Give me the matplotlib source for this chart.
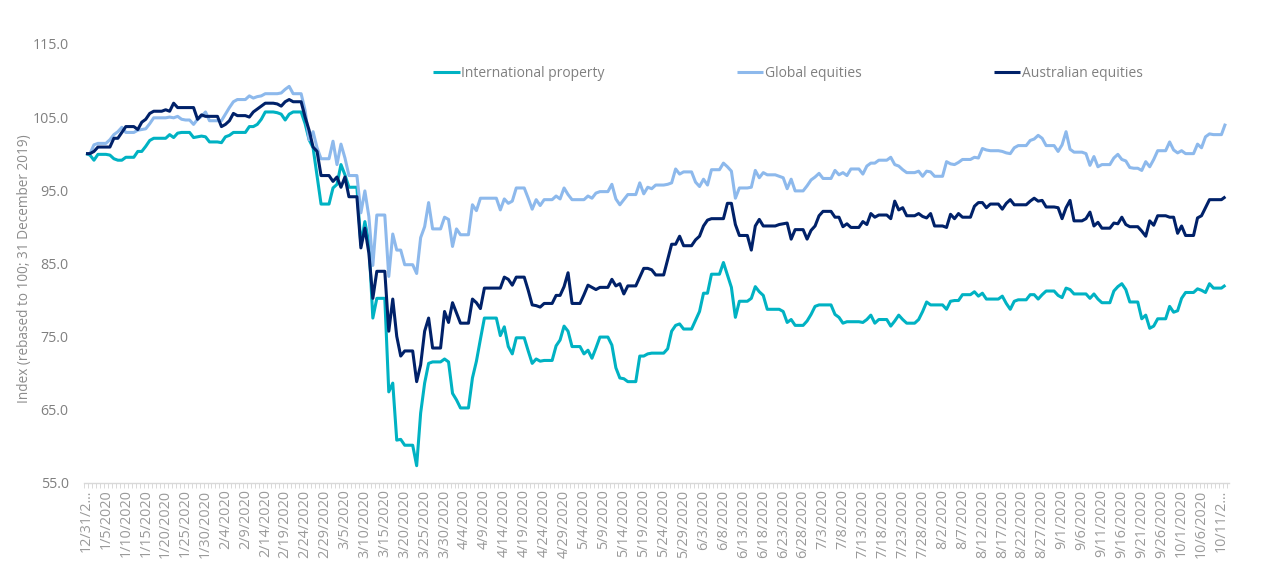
import pandas as pd
import matplotlib
matplotlib.use('Agg')
import matplotlib.pyplot as plt

plt.rcParams['font.family'] = ['Open Sans', 'DejaVu Sans']

startDate = '2019-12-31'

internationalProperty = [
    100.0, 99.8, 99.1, 99.9, 99.9, 99.9, 99.8,
    99.3, 99.1, 99.1, 99.5, 99.5, 99.5, 100.3,
    100.3, 101.0, 101.8, 102.1, 102.1, 102.1, 102.1,
    102.6, 102.2, 102.8, 102.9, 102.9, 102.9, 102.2,
    102.3, 102.4, 102.3, 101.6, 101.6, 101.6, 101.5,
    102.3, 102.5, 102.9, 102.9, 102.9, 102.9, 103.7,
    103.7, 104.0, 104.7, 105.7, 105.7, 105.7, 105.6,
    105.4, 104.6, 105.4, 105.7, 105.7, 105.7, 104.1,
    101.9, 100.8, 96.9, 93.1, 93.1, 93.1, 95.3,
    95.8, 98.5, 97.1, 95.4, 95.4, 95.4, 87.5,
    90.7, 87.8, 77.5, 80.2, 80.2, 80.2, 67.4,
    68.6, 60.8, 60.9, 60.1, 60.1, 60.1, 57.3,
    64.5, 68.6, 71.3, 71.5, 71.5, 71.5, 71.9,
    71.5, 67.2, 66.3, 65.2, 65.2, 65.2, 69.3,
    71.6, 74.6, 77.5, 77.5, 77.5, 77.5, 75.1,
    76.3, 73.6, 72.6, 74.8, 74.8, 74.8, 73.0,
    71.3, 71.9, 71.6, 71.7, 71.7, 71.7, 73.7,
    74.5, 76.4, 75.7, 73.6, 73.6, 73.6, 72.6,
    73.1, 72.0, 73.4, 74.9, 74.9, 74.9, 73.8,
    70.7, 69.3, 69.2, 68.8, 68.8, 68.8, 72.3,
    72.3, 72.6, 72.7, 72.7, 72.7, 72.7, 73.3,
    75.7, 76.5, 76.7, 76.0, 76.0, 76.0, 77.2,
    78.4, 80.9, 80.9, 83.5, 83.5, 83.5, 85.1,
    83.4, 81.7, 77.6, 79.8, 79.8, 79.8, 80.2,
    81.8, 81.1, 80.6, 78.7, 78.7, 78.7, 78.7,
    78.4, 76.9, 77.3, 76.5, 76.5, 76.5, 77.1,
    78.0, 79.1, 79.3, 79.3, 79.3, 79.3, 78.0,
    77.6, 76.8, 77.0, 77.0, 77.0, 77.0, 76.9,
    77.3, 77.9, 76.8, 77.3, 77.3, 77.3, 76.4,
    77.1, 77.9, 77.3, 76.8, 76.8, 76.8, 77.3,
    78.4, 79.7, 79.3, 79.3, 79.3, 79.3, 78.7,
    79.8, 79.9, 79.9, 80.7, 80.7, 80.7, 81.1,
    80.5, 80.9, 80.1, 80.1, 80.1, 80.1, 80.5,
    79.5, 78.7, 79.8, 80.0, 80.0, 80.0, 80.7,
    80.7, 80.1, 80.7, 81.2, 81.2, 81.2,
    80.6, 80.3, 81.6, 81.4, 80.8, 80.8, 80.8,
    80.8, 80.2, 80.8, 80.1, 79.6, 79.6, 79.6,
    81.2, 81.8, 82.2, 81.4, 79.7, 79.7, 79.7,
    77.4, 77.9, 76.1, 76.4, 77.4, 77.4, 77.4,
    79.1, 78.3, 78.5, 80.2, 81.0, 81.0, 81.0,
    81.5, 81.3, 81.0, 82.2, 81.6, 81.6, 81.6,
    82.0,
]

globalEquities = [
    100.0, 100.0, 101.2, 101.4, 101.4, 101.4, 101.9,
    102.6, 103.0, 103.6, 102.9, 102.9, 102.9, 103.2,
    103.3, 103.4, 104.1, 104.9, 104.9, 104.9, 104.9,
    105.0, 104.9, 105.1, 104.7, 104.6, 104.6, 104.0,
    104.7, 105.1, 105.7, 104.5, 104.5, 104.5, 104.5,
    105.4, 106.3, 107.1, 107.4, 107.4, 107.4, 107.9,
    107.6, 107.8, 107.9, 108.2, 108.2, 108.2, 108.2,
    108.3, 108.8, 109.2, 108.2, 108.2, 108.2, 105.9,
    101.9, 103.0, 100.8, 99.3, 99.3, 99.3, 101.7,
    98.5, 101.3, 99.4, 97.0, 97.0, 97.0, 91.9,
    94.9, 91.4, 84.7, 91.6, 91.6, 91.6, 83.2,
    89.0, 86.8, 86.8, 84.8, 84.8, 84.8, 83.6,
    88.5, 90.0, 93.3, 89.7, 89.7, 89.7, 91.3,
    91.0, 87.3, 89.7, 88.9, 88.9, 88.9, 93.0,
    92.2, 93.9, 93.9, 93.9, 93.9, 93.9, 92.3,
    93.8, 93.2, 93.5, 95.3, 95.3, 95.3, 93.9,
    92.4, 93.7, 92.9, 93.7, 93.7, 93.7, 94.2,
    93.8, 95.3, 94.4, 93.7, 93.7, 93.7, 93.7,
    94.2, 93.9, 94.6, 94.8, 94.8, 94.8, 95.8,
    93.8, 93.0, 93.7, 94.4, 94.4, 94.4, 96.0,
    94.5, 95.4, 95.2, 95.7, 95.7, 95.7, 95.8,
    96.0, 97.9, 97.2, 97.5, 97.5, 97.5, 96.1,
    95.5, 96.5, 95.7, 97.8, 97.8, 97.8, 98.7,
    98.2, 97.6, 93.9, 95.3, 95.3, 95.3, 95.4,
    97.7, 96.7, 97.4, 97.1, 97.1, 97.1, 96.9,
    96.7, 95.2, 96.5, 94.9, 94.9, 94.9, 95.6,
    96.4, 96.8, 97.3, 96.6, 96.6, 96.6, 97.7,
    97.1, 97.4, 97.0, 97.9, 97.9, 97.9, 97.2,
    98.3, 98.7, 98.7, 99.1, 99.1, 99.1, 99.5,
    98.5, 98.3, 97.8, 97.4, 97.4, 97.4, 97.6,
    96.9, 97.6, 97.5, 96.9, 96.9, 96.9, 98.9,
    98.6, 98.5, 98.8, 99.2, 99.2, 99.2, 99.5,
    99.4, 100.7, 100.5, 100.4, 100.4, 100.4, 100.3,
    100.1, 100.0, 100.8, 101.1, 101.1, 101.1, 101.8,
    102.0, 102.5, 102.1, 101.1, 101.1, 101.1,
    100.3, 101.2, 103.0, 100.6, 100.2, 100.2, 100.2,
    100.0, 98.4, 99.6, 98.2, 98.5, 98.5, 98.5,
    99.4, 99.9, 99.2, 99.0, 98.1, 98.0, 98.0,
    97.7, 98.9, 98.2, 99.2, 100.4, 100.4, 100.4,
    101.6, 100.5, 100.1, 100.4, 100.0, 100.0, 100.0,
    101.3, 100.8, 102.3, 102.7, 102.6, 102.6, 102.6,
    104.1,
]

australianEquities = [
    100.0, 100.0, 100.3, 100.9, 100.9, 100.9, 100.9,
    102.1, 102.1, 102.9, 103.7, 103.7, 103.7, 103.3,
    104.3, 104.7, 105.5, 105.8, 105.8, 105.8, 106.0,
    105.8, 106.9, 106.3, 106.3, 106.3, 106.3, 106.3,
    104.7, 105.3, 105.1, 105.1, 105.1, 105.1, 103.7,
    104.0, 104.5, 105.5, 105.2, 105.2, 105.2, 105.0,
    105.7, 106.1, 106.5, 106.9, 106.9, 106.9, 106.8,
    106.5, 107.1, 107.4, 107.1, 107.1, 107.1, 105.0,
    103.2, 100.9, 100.3, 97.0, 97.0, 97.0, 96.2,
    96.8, 95.4, 96.8, 94.1, 94.1, 94.1, 87.1,
    89.8, 86.4, 80.2, 83.9, 83.9, 83.9, 75.7,
    80.1, 75.0, 72.3, 73.0, 73.0, 73.0, 68.8,
    71.1, 75.7, 77.5, 73.4, 73.4, 73.4, 78.4,
    76.9, 79.6, 78.2, 76.8, 76.8, 76.8, 80.1,
    79.6, 78.8, 81.6, 81.6, 81.6, 81.6, 81.6,
    83.1, 82.8, 82.0, 83.1, 83.1, 83.1, 81.3,
    79.3, 79.2, 79.0, 79.5, 79.5, 79.5, 80.6,
    80.6, 81.8, 83.7, 79.5, 79.5, 79.5, 80.7,
    82.0, 81.7, 81.4, 81.7, 81.7, 81.7, 82.8,
    81.9, 82.2, 80.8, 81.9, 81.9, 81.9, 83.1,
    84.3, 84.3, 84.1, 83.4, 83.4, 83.4, 85.5,
    87.6, 87.6, 88.7, 87.4, 87.4, 87.4, 88.2,
    88.7, 90.1, 90.9, 91.1, 91.1, 91.1, 91.1,
    93.2, 93.2, 90.3, 88.8, 88.8, 88.8, 86.8,
    90.1, 91.0, 90.1, 90.1, 90.1, 90.1, 90.3,
    90.4, 90.5, 88.3, 89.6, 89.6, 89.6, 88.3,
    89.5, 90.1, 91.5, 92.1, 92.1, 92.1, 91.3,
    91.3, 90.0, 90.4, 89.9, 89.9, 89.9, 90.7,
    90.3, 91.8, 91.3, 91.6, 91.6, 91.6, 91.1,
    93.5, 92.3, 92.6, 91.5, 91.5, 91.5, 91.8,
    91.4, 91.2, 91.8, 90.1, 90.1, 90.1, 89.9,
    91.7, 91.1, 91.8, 91.3, 91.3, 91.3, 92.8,
    93.3, 93.3, 92.6, 93.1, 93.1, 93.1, 92.4,
    93.2, 93.7, 93.0, 93.0, 93.0, 93.0, 93.5,
    93.9, 93.5, 93.6, 92.7, 92.7, 92.7,
    92.6, 91.1, 92.6, 93.6, 90.8, 90.8, 90.8,
    91.1, 92.0, 90.1, 90.6, 89.8, 89.8, 89.8,
    90.5, 90.4, 91.3, 90.3, 90.0, 90.0, 90.0,
    89.4, 88.7, 90.8, 90.2, 91.5, 91.5, 91.5,
    91.3, 91.3, 89.1, 90.1, 88.8, 88.8, 88.8,
    91.2, 91.5, 92.6, 93.7, 93.7, 93.7, 93.7,
    94.1,
]

seriesNames = ['International property', 'Global equities', 'Australian equities']
seriesColors = ['#00B2C3', '#8DB9EC', '#002169']
yTicks = [55, 65, 75, 85, 95, 105, 115]
yLabel = 'Index (rebased to 100; 31 December 2019)'


def tickLabel(day):
    text = f'{day.month}/{day.day}/{day.year}'
    # long dates get cut off by the axis, same as in the original
    if len(text) >= 10:
        text = text[:7] + '...'
    return text


dates = pd.date_range(startDate, periods=len(internationalProperty))
positions = list(range(len(dates)))

width, height = 1276, 566
left, right, top, bottom = 84, 1229, 44, 482.5

fig = plt.figure(figsize=(width / 100, height / 100), dpi=100)
ax = fig.add_axes([left / width, 1 - bottom / height, (right - left) / width, (bottom - top) / height])

allSeries = [internationalProperty, globalEquities, australianEquities]
for values, name, color in zip(allSeries, seriesNames, seriesColors):
    ax.plot(positions, values, color=color, lw=2.2, label=name, solid_joinstyle='round', solid_capstyle='butt')

ax.set_xlim(-0.5, len(dates) - 0.1)
ax.set_ylim(55, 115)

for side in ['top', 'right', 'left']:
    ax.spines[side].set_visible(False)
ax.spines['bottom'].set_color('#D9D9D9')
ax.spines['bottom'].set_linewidth(1.0)

ax.set_yticks(yTicks)
ax.set_yticklabels([f'{v:.1f}' for v in yTicks], color='#808080', fontsize=10.3)
ax.tick_params(axis='y', length=0, pad=11)

ax.set_xticks(positions[::5])
ax.set_xticklabels([tickLabel(d) for d in dates[::5]], rotation=90, color='#9A9A9A', fontsize=10.4)
ax.set_xticks([p - 0.5 for p in positions] + [positions[-1] + 0.5], minor=True)
ax.tick_params(axis='x', which='major', length=0, pad=5)
ax.tick_params(axis='x', which='minor', length=3.5, width=0.7, color='#D9D9D9')

ax.set_ylabel(yLabel, color='#8C8C8C', fontsize=9.8)
ax.yaxis.set_label_coords(-0.0452, 0.488)

ax.legend(loc='upper left', bbox_to_anchor=((433 - left) / (right - left), 1 - (66 - top) / (bottom - top)),
          ncol=3, frameon=False, fontsize=10, labelcolor='#808080', borderaxespad=0, borderpad=0,
          handlelength=1.92, handletextpad=0.12, columnspacing=9.5)

fig.savefig('out.png', dpi=100)
